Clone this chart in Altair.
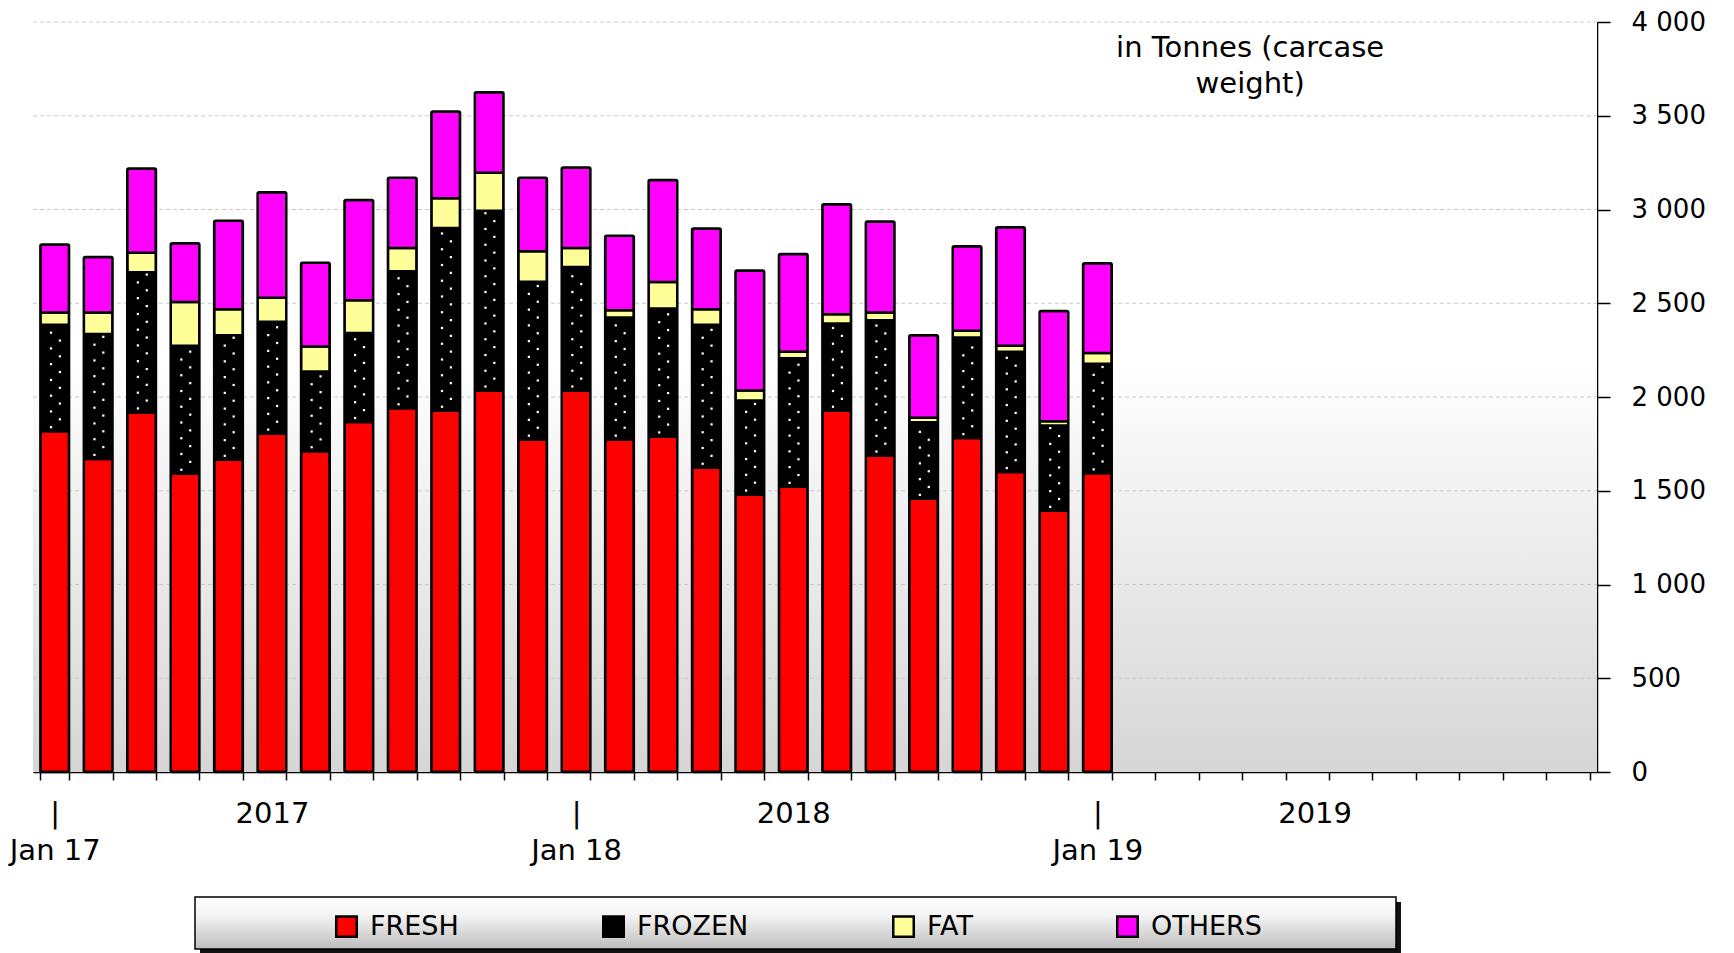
import altair as alt
import pandas as pd

# ---------------- data ----------------
months = [f"{y}-{m:02d}" for y in (2017, 2018, 2019) for m in range(1, 13)]
data_months = months[:25]

fresh = [1818, 1670, 1918, 1591, 1665, 1805, 1711, 1867, 1940, 1927, 2035, 1773, 2035,
         1773, 1790, 1623, 1480, 1521, 1927, 1688, 1457, 1781, 1600, 1393, 1593]
frozen = [567, 666, 748, 683, 664, 596, 425, 474, 731, 974, 958, 842, 659,
          651, 682, 762, 502, 686, 465, 722, 409, 537, 642, 455, 584]
fat = [66, 115, 103, 233, 139, 129, 133, 175, 124, 159, 203, 162, 101,
       39, 141, 83, 53, 35, 50, 41, 23, 35, 32, 23, 58]
others = [362, 296, 450, 313, 472, 562, 447, 535, 375, 463, 429, 393, 429,
          397, 544, 431, 640, 521, 586, 485, 441, 451, 632, 588, 479]

types = ["FRESH", "FROZEN", "FAT", "OTHERS"]
colors = ["#ff0000", "#000000", "#ffff99", "#ff00ff"]
y_ticks = [0, 500, 1000, 1500, 2000, 2500, 3000, 3500, 4000]
note_lines = ["in Tonnes (carcase", "weight)"]

FONT = "DejaVu Sans"

rows = []
for i, m in enumerate(data_months):
    for k, (t, arr) in enumerate(zip(types, [fresh, frozen, fat, others])):
        rows.append({"month": m, "type": t, "value": arr[i], "ord": k})
df = pd.DataFrame(rows)

# white dot texture inside the FROZEN segment (derived from the data)
dots = []
step = 42
for i, m in enumerate(data_months):
    v = fresh[i] + step / 2
    k = 0
    while v < fresh[i] + frozen[i] - 12:
        dots.append({"month": m, "v": v, "col": k % 2})
        v += step
        k += 1
dots_df = pd.DataFrame(dots)

W, H = 1564, 750

xscale = alt.Scale(domain=months, paddingInner=0.34, paddingOuter=0.17)
yscale = alt.Scale(domain=[0, 4000], nice=False)

label_expr = ("substring(datum.value,5,7)=='01' ? ['|', 'Jan ' + substring(datum.value,2,4)] : "
              "(substring(datum.value,5,7)=='06' ? substring(datum.value,0,4) : '')")

x_axis = alt.Axis(
    title=None, labelExpr=label_expr, labelAngle=0, labelFont=FONT, labelFontSize=29,
    labelColor="black", labelLineHeight=37, labelPadding=19, labelOverlap=False,
    labelFlush=False, labelBound=False, tickSize=8, tickWidth=1.5, tickColor="black",
    domainColor="black", domainWidth=1.5, tickBand="extent", grid=False,
)
y_axis = alt.Axis(
    orient="right", title=None, values=y_ticks,
    labelExpr="replace(format(datum.value, ','), ',', ' ')",
    labelFont=FONT, labelFontSize=26, labelColor="black", labelPadding=21,
    tickSize=13, tickWidth=1.5, tickColor="black", domainColor="black",
    domainWidth=1.5, grid=False, labelFlush=False, labelOverlap=False,
)

one = pd.DataFrame({"a": [0]})

background = alt.Chart(one).mark_rect(
    fill={"gradient": "linear", "x1": 0, "y1": 0, "x2": 0, "y2": 1,
          "stops": [{"offset": 0, "color": "#ffffff"},
                    {"offset": 0.45, "color": "#ffffff"},
                    {"offset": 1, "color": "#d6d6d6"}]}
).encode(x=alt.value(0), x2=alt.value("width"), y=alt.value(0), y2=alt.value("height"))

grid = alt.Chart(pd.DataFrame({"value": y_ticks[1:]})).mark_rule(
    color="#cccccc", strokeDash=[4, 3], strokeWidth=1
).encode(y=alt.Y("value:Q", scale=yscale, axis=y_axis), x=alt.value(0), x2=alt.value("width"))

bars = alt.Chart(df).mark_bar(stroke="black", strokeWidth=2.5, cornerRadius=1.5).encode(
    x=alt.X("month:O", scale=xscale, axis=x_axis),
    y=alt.Y("value:Q", stack="zero", scale=yscale, axis=y_axis),
    color=alt.Color(
        "type:N",
        scale=alt.Scale(domain=types, range=colors),
        legend=alt.Legend(
            title=None, orient="none", legendX=300, legendY=891, direction="horizontal",
            columns=4, symbolType="square", symbolSize=420, symbolStrokeColor="black",
            symbolStrokeWidth=2.5, labelFont=FONT, labelFontSize=27, labelColor="black",
            labelOffset=10, columnPadding=139, padding=0,
        ),
    ),
    order=alt.Order("ord:Q", sort="ascending"),
)

dot_layers = []
for c, bp in ((0, 0.37), (1, 0.68)):
    dot_layers.append(
        alt.Chart(dots_df).transform_filter(alt.datum.col == c).mark_square(
            size=5, color="white", opacity=1
        ).encode(
            x=alt.X("month:O", scale=xscale, bandPosition=bp, axis=x_axis),
            y=alt.Y("v:Q", scale=yscale, axis=y_axis),
        )
    )

note = alt.Chart(one).mark_text(
    text=note_lines, font=FONT, fontSize=29, lineHeight=36, align="center",
    baseline="middle", color="black", dx=-21,
).encode(x=alt.XDatum(datum="2019-05", type="ordinal"), y=alt.YDatum(datum=3862, type="quantitative"))

legend_shadow = alt.Chart(one).mark_rect(color="#111111").encode(
    x=alt.value(167), x2=alt.value(1368), y=alt.value(880), y2=alt.value(931)
)
legend_box = alt.Chart(one).mark_rect(
    stroke="black", strokeWidth=1.5,
    fill={"gradient": "linear", "x1": 0, "y1": 0, "x2": 0, "y2": 1,
          "stops": [{"offset": 0, "color": "#ffffff"},
                    {"offset": 0.35, "color": "#f4f4f4"},
                    {"offset": 1, "color": "#bdbdbd"}]},
).encode(x=alt.value(162), x2=alt.value(1363), y=alt.value(875), y2=alt.value(927))

chart = alt.layer(
    background, grid, bars, *dot_layers, note, legend_shadow, legend_box
).properties(
    width=W, height=H,
    autosize=alt.AutoSizeParams(type="none"),
    padding={"left": 25, "top": 14, "right": 128, "bottom": 181},
).configure_view(stroke=None).configure(background="white")

chart.save("out.html", embed_options={"renderer": "svg", "actions": False})
